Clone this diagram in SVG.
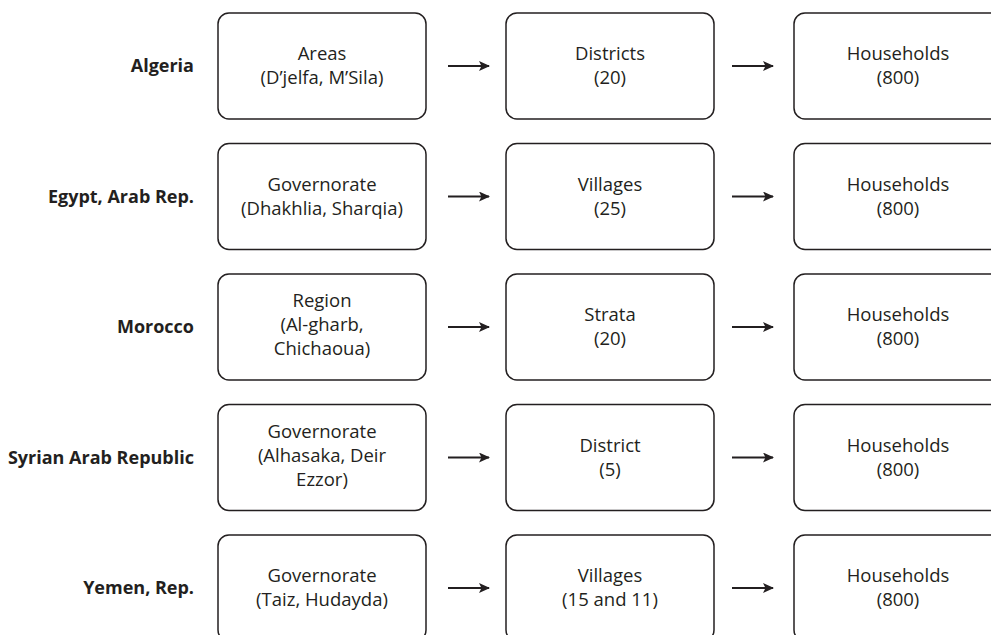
<svg xmlns="http://www.w3.org/2000/svg" width="991" height="635" viewBox="0 0 991 635">
<style>
.box{fill:#fff;stroke:#231f20;stroke-width:1.5}
.t{font-family:"Open Sans","Noto Sans",sans-serif;font-size:18.5px;fill:#231f20;text-anchor:middle}
.lbl{font-family:"Open Sans","Noto Sans",sans-serif;font-size:18px;font-weight:bold;fill:#231f20;text-anchor:end}
.c{stroke:#231f20;stroke-width:2;fill:none;marker-end:url(#ah)}
</style>
<defs>
<marker id="ah" markerWidth="12" markerHeight="10" refX="10" refY="5" orient="auto" markerUnits="userSpaceOnUse">
<path d="M0,0 L11,5 L0,10 L2.5,5 Z" fill="#231f20"/>
</marker>
</defs>
<rect width="991" height="635" fill="#fff"/>
<g id="labels">
<text class="lbl" x="194" y="72">Algeria</text>
<text class="lbl" x="194" y="203">Egypt, Arab Rep.</text>
<text class="lbl" x="194" y="333">Morocco</text>
<text class="lbl" x="194" y="464">Syrian Arab Republic</text>
<text class="lbl" x="194" y="594">Yemen, Rep.</text>
</g>
<g id="row1">
<g id="n1a"><rect class="box" x="218" y="13" width="208" height="106" rx="11"/><text class="t" x="322" y="60">Areas</text><text class="t" x="322" y="84">(D’jelfa, M’Sila)</text></g>
<g id="n1b"><rect class="box" x="506" y="13" width="208" height="106" rx="11"/><text class="t" x="610" y="60">Districts</text><text class="t" x="610" y="84">(20)</text></g>
<g id="n1c"><rect class="box" x="794" y="13" width="208" height="106" rx="11"/><text class="t" x="898" y="60">Households</text><text class="t" x="898" y="84">(800)</text></g>
</g>
<g id="row2">
<g id="n2a"><rect class="box" x="218" y="143.5" width="208" height="106" rx="11"/><text class="t" x="322" y="190.5">Governorate</text><text class="t" x="322" y="214.5">(Dhakhlia, Sharqia)</text></g>
<g id="n2b"><rect class="box" x="506" y="143.5" width="208" height="106" rx="11"/><text class="t" x="610" y="190.5">Villages</text><text class="t" x="610" y="214.5">(25)</text></g>
<g id="n2c"><rect class="box" x="794" y="143.5" width="208" height="106" rx="11"/><text class="t" x="898" y="190.5">Households</text><text class="t" x="898" y="214.5">(800)</text></g>
</g>
<g id="row3">
<g id="n3a"><rect class="box" x="218" y="274" width="208" height="106" rx="11"/><text class="t" x="322" y="307">Region</text><text class="t" x="322" y="331">(Al-gharb,</text><text class="t" x="322" y="355">Chichaoua)</text></g>
<g id="n3b"><rect class="box" x="506" y="274" width="208" height="106" rx="11"/><text class="t" x="610" y="321">Strata</text><text class="t" x="610" y="345">(20)</text></g>
<g id="n3c"><rect class="box" x="794" y="274" width="208" height="106" rx="11"/><text class="t" x="898" y="321">Households</text><text class="t" x="898" y="345">(800)</text></g>
</g>
<g id="row4">
<g id="n4a"><rect class="box" x="218" y="404.5" width="208" height="106" rx="11"/><text class="t" x="322" y="437.5">Governorate</text><text class="t" x="322" y="461.5">(Alhasaka, Deir</text><text class="t" x="322" y="485.5">Ezzor)</text></g>
<g id="n4b"><rect class="box" x="506" y="404.5" width="208" height="106" rx="11"/><text class="t" x="610" y="451.5">District</text><text class="t" x="610" y="475.5">(5)</text></g>
<g id="n4c"><rect class="box" x="794" y="404.5" width="208" height="106" rx="11"/><text class="t" x="898" y="451.5">Households</text><text class="t" x="898" y="475.5">(800)</text></g>
</g>
<g id="row5">
<g id="n5a"><rect class="box" x="218" y="535" width="208" height="106" rx="11"/><text class="t" x="322" y="582">Governorate</text><text class="t" x="322" y="606">(Taiz, Hudayda)</text></g>
<g id="n5b"><rect class="box" x="506" y="535" width="208" height="106" rx="11"/><text class="t" x="610" y="582">Villages</text><text class="t" x="610" y="606">(15 and 11)</text></g>
<g id="n5c"><rect class="box" x="794" y="535" width="208" height="106" rx="11"/><text class="t" x="898" y="582">Households</text><text class="t" x="898" y="606">(800)</text></g>
</g>
<g id="connectors">
<line class="c" x1="448" y1="66" x2="489" y2="66"/>
<line class="c" x1="732" y1="66" x2="773" y2="66"/>
<line class="c" x1="448" y1="196.5" x2="489" y2="196.5"/>
<line class="c" x1="732" y1="196.5" x2="773" y2="196.5"/>
<line class="c" x1="448" y1="327" x2="489" y2="327"/>
<line class="c" x1="732" y1="327" x2="773" y2="327"/>
<line class="c" x1="448" y1="457.5" x2="489" y2="457.5"/>
<line class="c" x1="732" y1="457.5" x2="773" y2="457.5"/>
<line class="c" x1="448" y1="588" x2="489" y2="588"/>
<line class="c" x1="732" y1="588" x2="773" y2="588"/>
</g>
</svg>
